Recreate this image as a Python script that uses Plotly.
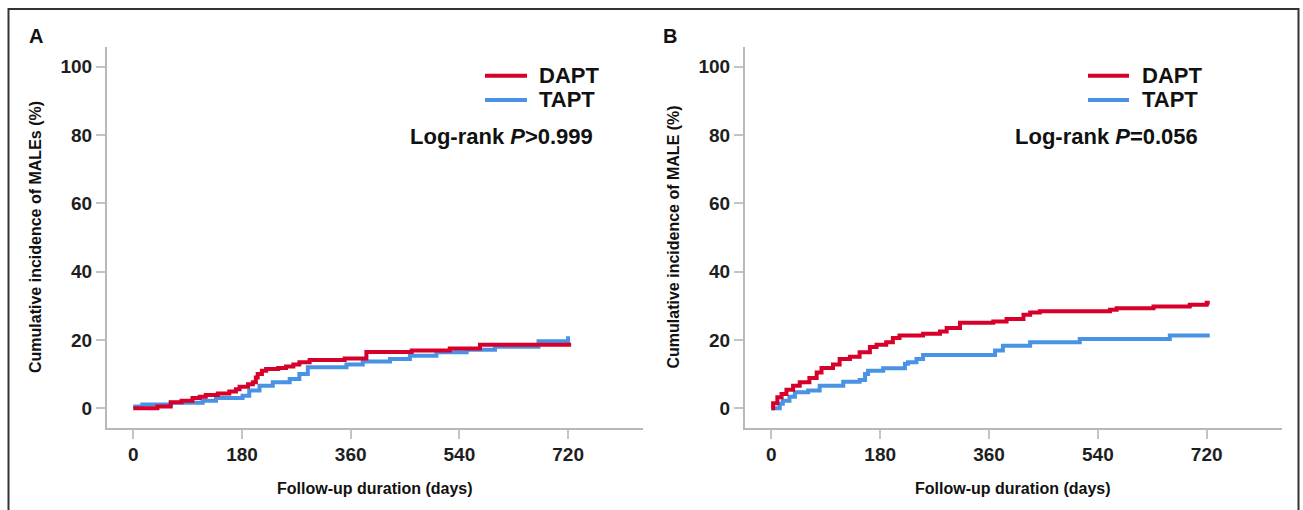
import plotly.graph_objects as go

# ---------------- data ----------------
# Panel A (MALEs)
a_dapt_days = [0, 40, 62, 80, 98, 110, 120, 140, 159, 170, 176, 190, 198, 203, 206, 213, 220, 240, 253, 265, 275, 292, 350, 386, 461, 524, 574, 725]
a_dapt_vals = [0, 0.5, 1.8, 2.2, 3.0, 3.4, 3.9, 4.3, 4.9, 5.6, 6.3, 7.0, 7.6, 9.0, 10.0, 11.0, 11.5, 11.8, 12.2, 12.8, 13.5, 14.1, 14.6, 16.5, 16.9, 17.5, 18.6, 18.6]
a_tapt_days = [0, 15, 62, 115, 137, 181, 192, 209, 231, 259, 275, 289, 353, 380, 425, 458, 502, 552, 599, 671, 720, 723]
a_tapt_vals = [0.5, 1.1, 1.6, 2.2, 3.0, 3.7, 5.2, 6.6, 7.6, 8.6, 10.0, 12.0, 12.8, 13.7, 14.4, 15.4, 16.4, 17.1, 18.0, 19.6, 20.5, 20.5]

# Panel B (MALE)
b_dapt_days = [0, 3, 10, 17, 25, 36, 47, 63, 75, 83, 102, 113, 130, 146, 163, 174, 190, 201, 212, 251, 279, 290, 312, 367, 389, 417, 428, 444, 560, 571, 632, 692, 720, 725]
b_dapt_vals = [0, 1.5, 3.2, 4.2, 5.4, 6.6, 7.6, 8.9, 10.5, 11.8, 12.8, 14.4, 15.1, 16.4, 17.9, 18.6, 19.3, 20.6, 21.3, 21.8, 22.5, 23.5, 25.0, 25.4, 26.1, 27.4, 28.0, 28.4, 28.8, 29.3, 29.8, 30.3, 30.9, 30.9]
b_tapt_days = [0, 14, 19, 30, 39, 61, 80, 119, 146, 155, 160, 185, 221, 226, 240, 251, 370, 383, 428, 510, 659, 725]
b_tapt_vals = [0, 1.3, 2.2, 3.4, 4.7, 5.2, 6.6, 7.8, 8.3, 10.0, 11.0, 11.7, 13.0, 13.5, 14.4, 15.6, 16.9, 18.3, 19.3, 20.3, 21.3, 21.3]

x_ticks = [0, 180, 360, 540, 720]
y_ticks = [0, 20, 40, 60, 80, 100]
series_names = ["DAPT", "TAPT"]
p_texts = ["Log-rank <i>P</i>&gt;0.999", "Log-rank <i>P</i>=0.056"]
y_titles = ["Cumulative incidence of MALEs (%)", "Cumulative incidence of MALE (%)"]
x_title = "Follow-up duration (days)"
panel_labels = ["A", "B"]

RED = "#d6002b"
BLUE = "#4a92e4"
FONT = "Liberation Sans"
W, H = 1303, 510

def px(x):
    return x / W

def py(y):
    return (H - y) / H

fig = go.Figure()

for i, (dd, dv, td, tv) in enumerate([
        (a_dapt_days, a_dapt_vals, a_tapt_days, a_tapt_vals),
        (b_dapt_days, b_dapt_vals, b_tapt_days, b_tapt_vals)]):
    xa = "x" if i == 0 else "x2"
    ya = "y" if i == 0 else "y2"
    fig.add_trace(go.Scatter(x=td, y=tv, mode="lines", line=dict(color=BLUE, width=4, shape="hv"),
                             name=series_names[1], showlegend=False, xaxis=xa, yaxis=ya))
    fig.add_trace(go.Scatter(x=dd, y=dv, mode="lines", line=dict(color=RED, width=4, shape="hv"),
                             name=series_names[0], showlegend=False, xaxis=xa, yaxis=ya))

x_dom = [[px(107), px(643)], [px(745), px(1281.7)]]
y_dom = [py(427.5), py(46.7)]

axis_common = dict(showgrid=False, zeroline=False, showline=True, linecolor="#b8b8b8", linewidth=2,
                   ticks="outside", ticklen=9, tickwidth=2, tickcolor="#c4c4c4",
                   tickfont=dict(family=FONT, size=19, color="#1e1e1e", weight="bold"))

for i in range(2):
    sx = "" if i == 0 else "2"
    fig.update_layout(**{
        "xaxis" + sx: dict(axis_common, domain=x_dom[i], range=[-43.5, 844], tickvals=x_ticks,
                           anchor="y" + sx),
        "yaxis" + sx: dict(axis_common, domain=y_dom, range=[-5.62, 105.8], tickvals=y_ticks,
                           anchor="x" + sx),
    })

shapes = [dict(type="rect", xref="paper", yref="paper", x0=px(8.5), x1=px(1298.5), y0=-0.05, y1=py(9),
               line=dict(color="#333333", width=2), fillcolor="rgba(0,0,0,0)")]
annotations = []
leg_line_x = [(485, 527), (1088, 1129)]
leg_text_x = [537, 1140]
p_text_x = [408, 1013]
ytitle_x = [35, 672.5]
xtitle_x = [375, 1013]
label_x = [35.5, 670]
for i in range(2):
    for name, col, yy in [(series_names[0], RED, 75.7), (series_names[1], BLUE, 100)]:
        shapes.append(dict(type="line", xref="paper", yref="paper", x0=px(leg_line_x[i][0]), x1=px(leg_line_x[i][1]),
                           y0=py(yy), y1=py(yy), line=dict(color=col, width=4)))
        annotations.append(dict(text="<b>%s</b>" % name, xref="paper", yref="paper", x=px(leg_text_x[i]), y=py(yy),
                                xanchor="left", yanchor="middle", showarrow=False,
                                font=dict(family=FONT, size=22, color="#111111")))
    annotations.append(dict(text="<b>%s</b>" % p_texts[i], xref="paper", yref="paper", x=px(p_text_x[i]), y=py(136.5),
                            xanchor="left", yanchor="middle", showarrow=False,
                            font=dict(family=FONT, size=22, color="#111111")))
    annotations.append(dict(text="<b>%s</b>" % y_titles[i], xref="paper", yref="paper", x=px(ytitle_x[i]), y=py(237),
                            xanchor="center", yanchor="middle", showarrow=False, textangle=-90,
                            font=dict(family=FONT, size=16, color="#111111")))
    annotations.append(dict(text="<b>%s</b>" % x_title, xref="paper", yref="paper", x=px(xtitle_x[i]), y=py(488),
                            xanchor="center", yanchor="middle", showarrow=False,
                            font=dict(family=FONT, size=16, color="#111111")))
    annotations.append(dict(text="<b>%s</b>" % panel_labels[i], xref="paper", yref="paper", x=px(label_x[i]), y=py(36),
                            xanchor="center", yanchor="middle", showarrow=False,
                            font=dict(family=FONT, size=20, color="#111111")))

fig.update_layout(width=W, height=H, margin=dict(l=0, r=0, t=0, b=0), paper_bgcolor="white",
                  plot_bgcolor="white", shapes=shapes, annotations=annotations, showlegend=False)

fig.write_html("out.html")
